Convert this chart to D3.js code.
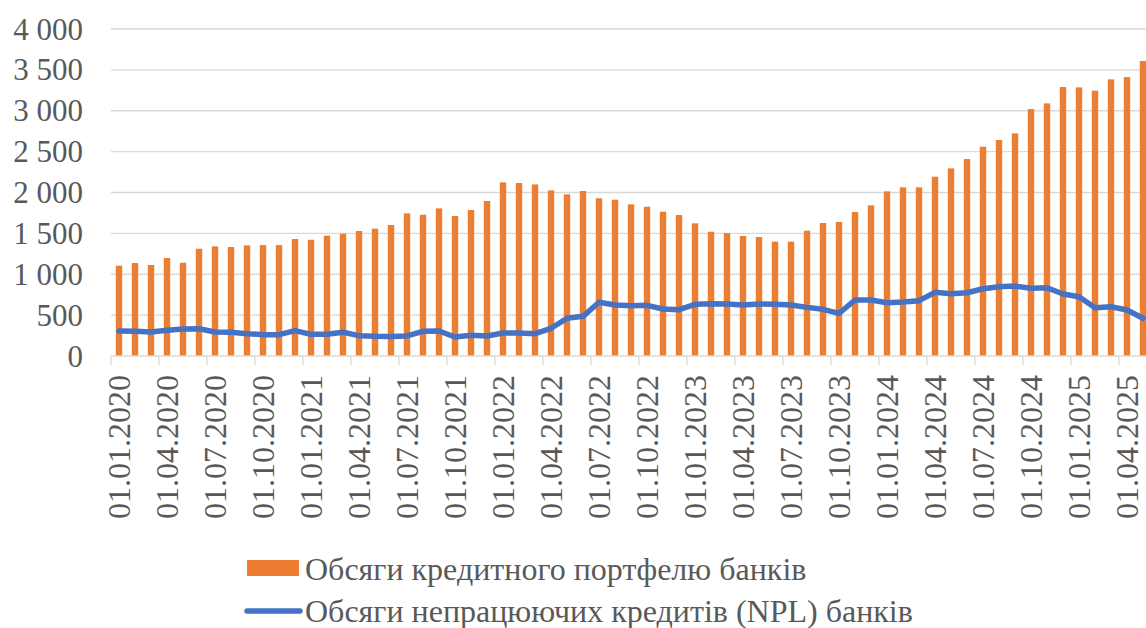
<!DOCTYPE html>
<html>
<head>
<meta charset="utf-8">
<script src="https://cdn.jsdelivr.net/npm/d3@7"></script>
<style>
	html, body { margin: 0; padding: 0; background: #fff; overflow: hidden; }
	svg { display: block; }
	text { font-family: 'Liberation Serif', 'Times New Roman', 'DejaVu Serif', serif; fill: #595959; }
</style>
</head>
<body>
<div id="chart"></div>
<script>
// Months, 01.01.2020 .. 01.05.2025
const months = [];
for (let y = 2020; y <= 2025; y++) {
	for (let m = 1; m <= 12; m++) {
		if (y === 2025 && m > 5) break;
		months.push('01.' + String(m).padStart(2, '0') + '.' + y);
	}
}

// Обсяги кредитного портфелю банків
const portfolio = [
	1104, 1137, 1113, 1199, 1141, 1312, 1341, 1333, 1353, 1357, 1357, 1431,
	1422, 1472, 1496, 1529, 1557, 1602, 1745, 1728, 1806, 1712, 1786, 1896,
	2124, 2116, 2099, 2026, 1977, 2018, 1929, 1912, 1855, 1826, 1765, 1724,
	1623, 1520, 1504, 1468, 1455, 1398, 1398, 1533, 1627, 1639, 1761, 1843,
	2014, 2063, 2063, 2193, 2295, 2409, 2560, 2642, 2723, 3021, 3090, 3290,
	3286, 3245, 3384, 3412, 3608
];

// Обсяги непрацюючих кредитів (NPL) банків
const npl = [
	306, 302, 294, 314, 330, 334, 294, 290, 273, 261, 261, 310,
	265, 265, 290, 249, 241, 238, 245, 302, 306, 232, 253, 245,
	281, 281, 273, 339, 461, 485, 657, 624, 615, 620, 575, 566,
	632, 640, 636, 624, 636, 632, 624, 595, 571, 522, 685, 685,
	652, 660, 677, 779, 762, 774, 823, 848, 856, 828, 835, 758,
	725, 591, 603, 563, 461
];

const yTicks = [0, 500, 1000, 1500, 2000, 2500, 3000, 3500, 4000];
const seriesNames = ['Обсяги кредитного портфелю банків', 'Обсяги непрацюючих кредитів (NPL) банків'];

const width = 1146, height = 628;
const orange = '#ED7D31', blue = '#4472C4', grid = '#d9d9d9';

const svg = d3.select('#chart').append('svg')
	.attr('width', width)
	.attr('height', height);

// The plot runs past the right edge of the picture, as in the source
const x = d3.scaleBand()
	.domain(months)
	.range([111, 111 + months.length * 16])
	.paddingInner(0.6)
	.paddingOuter(0.3);

const y = d3.scaleLinear()
	.domain([0, 4000])
	.range([356, 29]);

const fmt = v => d3.format(',')(v).replace(/,/g, ' ');

// Gridlines
svg.append('g').selectAll('line')
	.data(yTicks.filter(t => t > 0))
.join('line')
	.attr('x1', 111).attr('x2', width)
	.attr('y1', d => y(d)).attr('y2', d => y(d))
	.attr('stroke', grid)
	.attr('stroke-width', 1.3);

// Y labels
svg.append('g').selectAll('text')
	.data(yTicks)
.join('text')
	.attr('x', 83)
	.attr('y', d => y(d))
	.attr('dy', '0.34em')
	.attr('text-anchor', 'end')
	.style('font-size', '31px')
	.text(fmt);

// Bars
svg.append('g').selectAll('rect')
	.data(portfolio)
.join('rect')
	.attr('x', (d, i) => x(months[i]))
	.attr('y', d => y(d))
	.attr('width', x.bandwidth())
	.attr('height', d => y(0) - y(d))
	.attr('fill', orange);

// X axis line and tick marks at category boundaries
const gap = (x.step() - x.bandwidth()) / 2;
svg.append('line')
	.attr('x1', 111).attr('x2', width)
	.attr('y1', y(0)).attr('y2', y(0))
	.attr('stroke', grid)
	.attr('stroke-width', 1.3);

svg.append('g').selectAll('line')
	.data(months.filter((m, i) => i % 3 === 0))
.join('line')
	.attr('x1', d => x(d) - gap).attr('x2', d => x(d) - gap)
	.attr('y1', y(0)).attr('y2', y(0) + 9)
	.attr('stroke', grid)
	.attr('stroke-width', 1.3);

// X labels
svg.append('g').selectAll('text')
	.data(months.filter((m, i) => i % 3 === 0))
.join('text')
	.attr('transform', d => 'translate(' + (x(d) + x.bandwidth() / 2) + ',' + 375 + ') rotate(-90)')
	.attr('dy', '0.34em')
	.attr('text-anchor', 'end')
	.style('font-size', '32px')
	.text(d => d);

// NPL line
const line = d3.line()
	.x((d, i) => x(months[i]) + x.bandwidth() / 2)
	.y(d => y(d));

svg.append('path')
	.datum(npl)
	.attr('d', line)
	.attr('fill', 'none')
	.attr('stroke', blue)
	.attr('stroke-width', 5.5)
	.attr('stroke-linejoin', 'round')
	.attr('stroke-linecap', 'round');

// Legend
const legend = svg.append('g');
legend.append('rect')
	.attr('x', 247).attr('y', 560)
	.attr('width', 52).attr('height', 16)
	.attr('fill', orange);
legend.append('text')
	.attr('x', 305).attr('y', 580)
	.style('font-size', '32px')
	.text(seriesNames[0]);
legend.append('line')
	.attr('x1', 247).attr('x2', 300)
	.attr('y1', 611).attr('y2', 611)
	.attr('stroke', blue)
	.attr('stroke-width', 5.5)
	.attr('stroke-linecap', 'round');
legend.append('text')
	.attr('x', 305).attr('y', 622)
	.style('font-size', '32px')
	.text(seriesNames[1]);
</script>
</body>
</html>
